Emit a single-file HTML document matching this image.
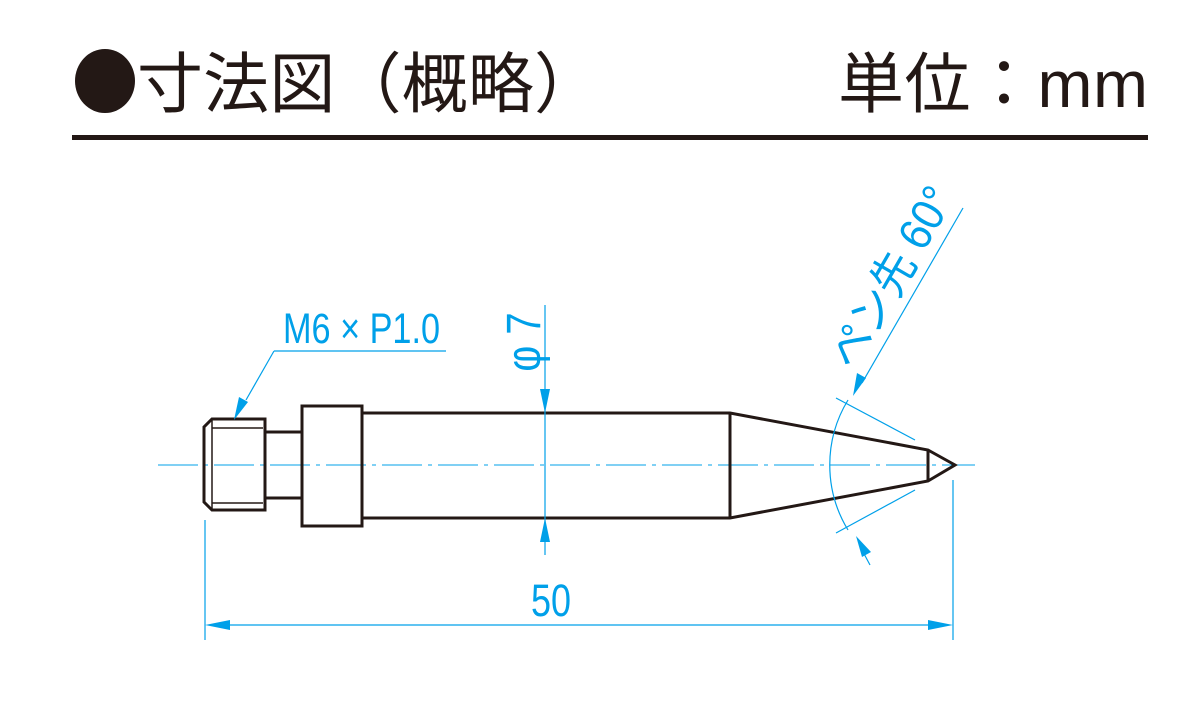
<!DOCTYPE html>
<html><head><meta charset="utf-8"><style>
html,body{margin:0;padding:0;background:#fff;}
svg{display:block;}
</style></head><body>
<svg width="1200" height="710" viewBox="0 0 1200 710" xmlns="http://www.w3.org/2000/svg">
<!-- header -->
<ellipse cx="105" cy="81" rx="30" ry="32" fill="#231815"/>
<text x="137" y="107" font-family="'Liberation Sans','Noto Sans CJK JP',sans-serif" font-size="66" fill="#231815" textLength="463" lengthAdjust="spacing">寸法図（概略）</text>
<text x="838" y="107" font-family="'Liberation Sans','Noto Sans CJK JP',sans-serif" font-size="66" fill="#231815" textLength="310" lengthAdjust="spacing">単位：mm</text>
<rect x="72" y="135" width="1076" height="5" fill="#231815"/>

<!-- centerline -->
<line x1="158" y1="465" x2="975" y2="465" stroke="#00a0e9" stroke-width="1" stroke-dasharray="40,6,4,6"/>

<!-- part -->
<g fill="none" stroke="#231815" stroke-width="3" stroke-linejoin="miter">
<path d="M212,419 L265,419 L265,510 L212,510 L204,502 L204,427 Z"/>
<line x1="212" y1="419" x2="212" y2="510" stroke-width="1.5"/>
<line x1="212" y1="428" x2="263" y2="428" stroke-width="1.5"/>
<line x1="212" y1="503" x2="263" y2="503" stroke-width="1.5"/>
<path d="M265,432 L302,432 M265,498 L302,498"/>
<rect x="302" y="406" width="60" height="120"/>
<path d="M362,413 L730,413 L928,450 L955,465 L928,481 L730,518 L362,518"/>
<line x1="730" y1="413" x2="730" y2="518"/>
<line x1="928" y1="450" x2="928" y2="481"/>
</g>

<!-- dimensions -->
<g stroke="#00a0e9" stroke-width="1.2" fill="none">
<line x1="205" y1="520" x2="205" y2="640"/>
<line x1="953" y1="480" x2="953" y2="640"/>
<line x1="230" y1="625" x2="928" y2="625"/>
<line x1="545" y1="305" x2="545" y2="555"/>
<line x1="274" y1="351" x2="446" y2="351"/>
<line x1="274" y1="351" x2="246" y2="400"/>
<line x1="836" y1="398" x2="915" y2="440"/>
<line x1="836" y1="533" x2="915" y2="490"/>
<path d="M848,400 A125,125 0 0 0 848,530"/>
<line x1="963" y1="208" x2="862" y2="383"/>
<line x1="870" y1="565" x2="862" y2="550"/>
</g>
<g fill="#00a0e9">
<path d="M205,625 L230,620 L230,630 Z"/>
<path d="M953,625 L928,620 L928,630 Z"/>
<path d="M545,413 L540,389 L550,389 Z"/>
<path d="M545,518 L540,542 L550,542 Z"/>
<path d="M234,420 L239,397 L248,402 Z"/>
<path d="M853,396 L857,373 L866,378 Z"/>
<path d="M856,536 L871,552 L862,557 Z"/>
</g>
<g font-family="'Liberation Sans','Noto Sans CJK JP',sans-serif" fill="#00a0e9">
<text transform="translate(283,343) scale(1,1.25)" font-size="34" textLength="157" lengthAdjust="spacingAndGlyphs">M6 × P1.0</text>
<text transform="translate(551,616) scale(1,1.25)" font-size="36" text-anchor="middle">50</text>
<text transform="translate(540,342) rotate(-90) scale(1,1.2)" font-size="40" text-anchor="middle">φ 7</text>
<text transform="translate(905,285) rotate(-60) scale(1.05,1.15)" font-size="40" text-anchor="middle">ペン先 60°</text>
</g>
</svg>
</body></html>
